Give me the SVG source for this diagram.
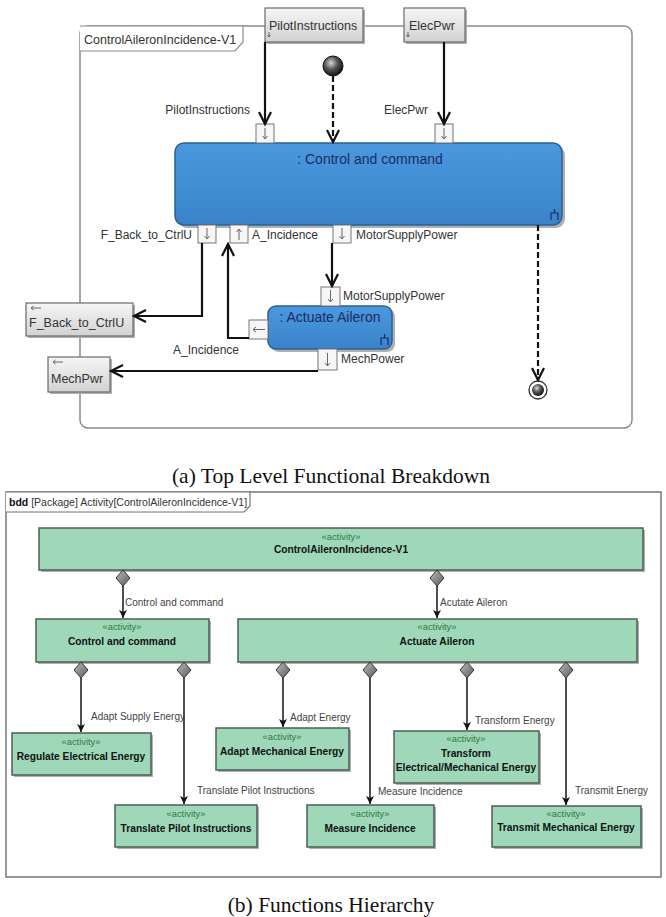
<svg xmlns="http://www.w3.org/2000/svg" width="666" height="917" viewBox="0 0 666 917">
<style>
text{font-family:"Liberation Sans",Arial,sans-serif;fill:#333}
.lbl{font-size:12px}
.ttl{font-size:14px;fill:#1b2c63}
.cap{font-family:"Liberation Serif","Times New Roman",serif;font-size:21.5px;fill:#111;text-anchor:middle}
.frame{fill:#fff;stroke:#8a8a8a;stroke-width:1.5}
.port{fill:url(#gport);stroke:#6a6a6a;stroke-width:1.2}
.pin{fill:#f6f6f6;stroke:#777;stroke-width:1}
.pa{stroke:#666;stroke-width:1;fill:none}
.flow{fill:none;stroke:#111;stroke-width:2.2}
.dash{fill:none;stroke:#111;stroke-width:2.2;stroke-dasharray:6,3}
.act{fill:url(#gblue);stroke:#2c5f94;stroke-width:1.5}
.blk{fill:#9fd7b9;stroke:#4d5e55;stroke-width:1.5}
.shd{fill:#b0b0b0}
.st{font-size:9.3px;fill:#2f7a45;text-anchor:middle}
.nm{font-size:10.2px;font-weight:bold;fill:#111;text-anchor:middle}
.cl{font-size:10px;fill:#444}
.comp{fill:none;stroke:#222;stroke-width:1.6}
.dia{fill:url(#gdia);stroke:#333;stroke-width:1}
</style>
<defs>
<linearGradient id="gport" x1="0" y1="0" x2="0" y2="1"><stop offset="0" stop-color="#f6f6f6"/><stop offset="1" stop-color="#d2d2d2"/></linearGradient>
<linearGradient id="gblue" x1="0" y1="0" x2="0" y2="1"><stop offset="0" stop-color="#4b98de"/><stop offset="1" stop-color="#3a83ca"/></linearGradient>
<linearGradient id="gdia" x1="0" y1="0" x2="1" y2="1"><stop offset="0" stop-color="#bdbdbd"/><stop offset="1" stop-color="#5a5a5a"/></linearGradient>
<radialGradient id="gball" cx="0.4" cy="0.35" r="0.65"><stop offset="0" stop-color="#d8d8d8"/><stop offset="0.5" stop-color="#555"/><stop offset="1" stop-color="#111"/></radialGradient>
<marker id="av" markerUnits="userSpaceOnUse" markerWidth="16" markerHeight="16" refX="13" refY="7" orient="auto"><path d="M1,1 L13,7 L1,13" fill="none" stroke="#111" stroke-width="2.2"/></marker>
<marker id="sv" markerUnits="userSpaceOnUse" markerWidth="10" markerHeight="10" refX="8" refY="4" orient="auto"><path d="M0,0 L8,4 L0,8 L2,4 Z" fill="#111"/></marker>
</defs>

<!-- Part (a) -->
<g id="frame-a">
<rect class="frame" x="80" y="26" width="552" height="402" rx="8"/>
<path d="M80,26 L243,26 L243,42 L235,51 L80,51" fill="#fff" stroke="#8a8a8a" stroke-width="1.2"/>
<text x="84" y="44" style="font-size:12.5px">ControlAileronIncidence-V1</text>
</g>

<g id="port-pilot">
<rect class="shd" x="267" y="10" width="98" height="34"/>
<rect class="port" x="265" y="8" width="98" height="34"/>
<text x="269" y="30" style="font-size:12.5px">PilotInstructions</text>
<path class="pa" d="M269,32 L269,37 M267.5,35 L269,37 L270.5,35"/>
</g>
<g id="port-elec">
<rect class="shd" x="406" y="10" width="61" height="34"/>
<rect class="port" x="404" y="8" width="61" height="34"/>
<text x="409" y="30" style="font-size:12.5px">ElecPwr</text>
<path class="pa" d="M408,32 L408,37 M406.5,35 L408,37 L409.5,35"/>
</g>

<g id="initial">
<circle cx="333" cy="66" r="10" fill="url(#gball)" stroke="#111" stroke-width="1"/>
</g>

<g id="control-command">
<rect class="shd" x="178" y="146" width="387" height="82" rx="9"/>
<rect class="act" x="175" y="143" width="387" height="82" rx="9"/>
<text class="ttl" x="370" y="164" text-anchor="middle">: Control and command</text>
<path d="M551,220 L551,213 L558,213 L558,220 M554.5,213 L554.5,209" fill="none" stroke="#1b2c63" stroke-width="1.2"/>
<rect class="pin" x="256" y="124" width="18" height="19"/><path class="pa" d="M265,128 L265,139 M262.5,136 L265,139 L267.5,136"/>
<rect class="pin" x="435" y="124" width="18" height="19"/><path class="pa" d="M444,128 L444,139 M441.5,136 L444,139 L446.5,136"/>
<rect class="pin" x="198" y="225" width="18" height="18"/><path class="pa" d="M207,228 L207,239 M204.5,236 L207,239 L209.5,236"/>
<rect class="pin" x="230" y="225" width="18" height="18"/><path class="pa" d="M239,240 L239,229 M236.5,232 L239,229 L241.5,232"/>
<rect class="pin" x="333" y="225" width="18" height="18"/><path class="pa" d="M342,228 L342,239 M339.5,236 L342,239 L344.5,236"/>
</g>

<g id="actuate-aileron">
<rect class="shd" x="271" y="309" width="124" height="43" rx="8"/>
<rect class="act" x="268" y="306" width="124" height="43" rx="8"/>
<text class="ttl" x="330" y="322" text-anchor="middle">: Actuate Aileron</text>
<path d="M381,345 L381,338 L388,338 L388,345 M384.5,338 L384.5,334" fill="none" stroke="#1b2c63" stroke-width="1.2"/>
<rect class="pin" x="321" y="287" width="19" height="19"/><path class="pa" d="M330.5,290 L330.5,302 M328,299 L330.5,302 L333,299"/>
<rect class="pin" x="249" y="320" width="19" height="19"/><path class="pa" d="M265,329.5 L253,329.5 M256,327 L253,329.5 L256,332"/>
<rect class="pin" x="318" y="349" width="19" height="21"/><path class="pa" d="M327.5,353 L327.5,366 M325,363 L327.5,366 L330,363"/>
</g>

<g id="out-fback">
<rect class="shd" x="28" y="305" width="107" height="33"/>
<rect class="port" x="26" y="303" width="107" height="33"/>
<path class="pa" d="M41,308 L31,308 M33.5,306 L31,308 L33.5,310"/>
<text x="29" y="327" style="font-size:12.5px">F_Back_to_CtrlU</text>
</g>
<g id="out-mechpwr">
<rect class="shd" x="50" y="359" width="62" height="35"/>
<rect class="port" x="48" y="357" width="62" height="35"/>
<path class="pa" d="M63,362 L53,362 M55.5,360 L53,362 L55.5,364"/>
<text x="51" y="383" style="font-size:12.5px">MechPwr</text>
</g>

<g id="final">
<circle cx="538" cy="390" r="9" fill="#fff" stroke="#333" stroke-width="1.3"/>
<circle cx="538" cy="390" r="6" fill="url(#gball)"/>
</g>

<g id="connectors-a">
<path class="flow" d="M265,42 L265,124" marker-end="url(#av)"/>
<path class="flow" d="M444,42 L444,124" marker-end="url(#av)"/>
<path class="dash" d="M333,76 L333,142" marker-end="url(#av)"/>
<path class="flow" d="M202,243 L202,316 L134,316" marker-end="url(#av)"/>
<path class="flow" d="M249,338 L228,338 L228,244" marker-end="url(#av)"/>
<path class="flow" d="M332,243 L332,286" marker-end="url(#av)"/>
<path class="flow" d="M318,371 L111,371" marker-end="url(#av)"/>
<path class="dash" d="M538,225 L538,380" marker-end="url(#av)"/>
<text class="lbl" x="250" y="114" text-anchor="end">PilotInstructions</text>
<text class="lbl" x="428" y="114" text-anchor="end">ElecPwr</text>
<text class="lbl" x="192" y="239" text-anchor="end">F_Back_to_CtrlU</text>
<text class="lbl" x="252" y="239">A_Incidence</text>
<text class="lbl" x="356" y="239">MotorSupplyPower</text>
<text class="lbl" x="343" y="300">MotorSupplyPower</text>
<text class="lbl" x="173" y="354">A_Incidence</text>
<text class="lbl" x="341" y="363">MechPower</text>
</g>

<text class="cap" x="331" y="483">(a) Top Level Functional Breakdown</text>

<!-- Part (b) -->
<g id="frame-b">
<rect x="6" y="492" width="655" height="385" fill="#fff" stroke="#777" stroke-width="1.5"/>
<path d="M6,492 L250,492 L250,506 L244,512 L6,512" fill="#fff" stroke="#777" stroke-width="1.2"/>
<text x="9" y="506" style="font-size:10.5px"><tspan font-weight="bold" fill="#111">bdd</tspan> [Package] Activity[ControlAileronIncidence-V1]</text>
</g>

<g id="b-root">
<rect class="shd" x="41" y="530" width="604" height="42"/>
<rect class="blk" x="39" y="528" width="604" height="42"/>
<text class="st" x="341" y="540">«activity»</text>
<text class="nm" x="341" y="553">ControlAileronIncidence-V1</text>
</g>
<g id="b-control">
<rect class="shd" x="38" y="621" width="173" height="43"/>
<rect class="blk" x="36" y="619" width="173" height="43"/>
<text class="st" x="122" y="630">«activity»</text>
<text class="nm" x="122" y="645">Control and command</text>
</g>
<g id="b-actuate">
<rect class="shd" x="240" y="621" width="399" height="43"/>
<rect class="blk" x="238" y="619" width="399" height="43"/>
<text class="st" x="437" y="630">«activity»</text>
<text class="nm" x="437" y="645">Actuate Aileron</text>
</g>
<g id="b-regulate">
<rect class="shd" x="14" y="735" width="139" height="42"/>
<rect class="blk" x="12" y="733" width="139" height="42"/>
<text class="st" x="81" y="745">«activity»</text>
<text class="nm" x="81" y="760">Regulate Electrical Energy</text>
</g>
<g id="b-translate">
<rect class="shd" x="117" y="807" width="142" height="42"/>
<rect class="blk" x="115" y="805" width="142" height="42"/>
<text class="st" x="186" y="817">«activity»</text>
<text class="nm" x="186" y="832">Translate Pilot Instructions</text>
</g>
<g id="b-adaptmech">
<rect class="shd" x="218" y="730" width="133" height="42"/>
<rect class="blk" x="216" y="728" width="133" height="42"/>
<text class="st" x="282" y="740">«activity»</text>
<text class="nm" x="282" y="755">Adapt Mechanical Energy</text>
</g>
<g id="b-measure">
<rect class="shd" x="309" y="807" width="127" height="42"/>
<rect class="blk" x="307" y="805" width="127" height="42"/>
<text class="st" x="370" y="817">«activity»</text>
<text class="nm" x="370" y="832">Measure Incidence</text>
</g>
<g id="b-transform">
<rect class="shd" x="396" y="733" width="145" height="52"/>
<rect class="blk" x="394" y="731" width="145" height="52"/>
<text class="st" x="466" y="742">«activity»</text>
<text class="nm" x="466" y="757">Transform</text>
<text class="nm" x="466" y="771">Electrical/Mechanical Energy</text>
</g>
<g id="b-transmit">
<rect class="shd" x="494" y="808" width="149" height="41"/>
<rect class="blk" x="492" y="806" width="149" height="41"/>
<text class="st" x="566" y="817">«activity»</text>
<text class="nm" x="566" y="831">Transmit Mechanical Energy</text>
</g>

<g id="connectors-b">
<path class="comp" d="M123,586 L123,618" marker-end="url(#sv)"/>
<path class="comp" d="M437,586 L437,618" marker-end="url(#sv)"/>
<path class="comp" d="M81,678 L81,732" marker-end="url(#sv)"/>
<path class="comp" d="M184,678 L184,804" marker-end="url(#sv)"/>
<path class="comp" d="M283,678 L283,727" marker-end="url(#sv)"/>
<path class="comp" d="M370,678 L370,804" marker-end="url(#sv)"/>
<path class="comp" d="M467,678 L467,730" marker-end="url(#sv)"/>
<path class="comp" d="M566,678 L566,805" marker-end="url(#sv)"/>
<path class="dia" d="M123,570 L130,578 L123,586 L116,578 Z"/>
<path class="dia" d="M437,570 L444,578 L437,586 L430,578 Z"/>
<path class="dia" d="M81,662 L88,670 L81,678 L74,670 Z"/>
<path class="dia" d="M184,662 L191,670 L184,678 L177,670 Z"/>
<path class="dia" d="M283,662 L290,670 L283,678 L276,670 Z"/>
<path class="dia" d="M370,662 L377,670 L370,678 L363,670 Z"/>
<path class="dia" d="M467,662 L474,670 L467,678 L460,670 Z"/>
<path class="dia" d="M566,662 L573,670 L566,678 L559,670 Z"/>
<text class="cl" x="125" y="606">Control and command</text>
<text class="cl" x="440" y="606">Acutate Aileron</text>
<text class="cl" x="91" y="720">Adapt Supply Energy</text>
<text class="cl" x="197" y="794">Translate Pilot Instructions</text>
<text class="cl" x="290" y="721">Adapt Energy</text>
<text class="cl" x="378" y="795">Measure Incidence</text>
<text class="cl" x="475" y="724">Transform Energy</text>
<text class="cl" x="575" y="794">Transmit Energy</text>
</g>

<text class="cap" x="331" y="912">(b) Functions Hierarchy</text>
</svg>
